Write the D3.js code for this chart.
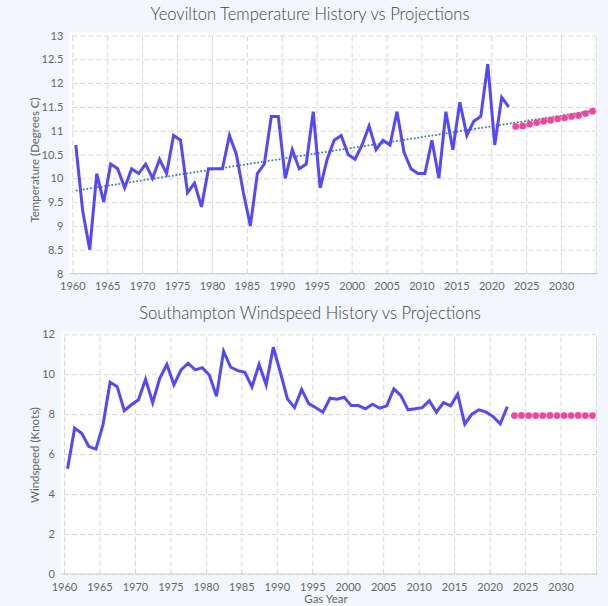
<!DOCTYPE html>
<html>
<head>
<meta charset="utf-8">
<script src="https://cdn.jsdelivr.net/npm/d3@7"></script>
<style>
  body { margin: 0; background: #f3f6fd; }
  svg { display: block; font-family: Lato, "Noto Sans", sans-serif; }
</style>
</head>
<body>
<svg id="chart" width="608" height="606"></svg>
<script>
// gas years of the history series
var historyYears = [
  1960, 1961, 1962, 1963, 1964, 1965, 1966, 1967, 1968, 1969,
  1970, 1971, 1972, 1973, 1974, 1975, 1976, 1977, 1978, 1979,
  1980, 1981, 1982, 1983, 1984, 1985, 1986, 1987, 1988, 1989,
  1990, 1991, 1992, 1993, 1994, 1995, 1996, 1997, 1998, 1999,
  2000, 2001, 2002, 2003, 2004, 2005, 2006, 2007, 2008, 2009,
  2010, 2011, 2012, 2013, 2014, 2015, 2016, 2017, 2018, 2019,
  2020, 2021, 2022
];
var projectionYears = [2023, 2024, 2025, 2026, 2027, 2028, 2029, 2030, 2031, 2032, 2033, 2034];

// Yeovilton temperature (degrees C)
var tempHistory = [
  10.7, 9.3, 8.5, 10.1, 9.5, 10.3, 10.2, 9.8, 10.2, 10.1,
  10.3, 10.0, 10.4, 10.1, 10.9, 10.8, 9.7, 9.9, 9.4, 10.2,
  10.2, 10.2, 10.9, 10.5, 9.7, 9.0, 10.1, 10.3, 11.3, 11.3,
  10.0, 10.6, 10.2, 10.3, 11.4, 9.8, 10.4, 10.8, 10.9, 10.5,
  10.4, 10.7, 11.1, 10.6, 10.8, 10.7, 11.4, 10.55, 10.2, 10.1,
  10.1, 10.8, 10.0, 11.4, 10.6, 11.6, 10.9, 11.2, 11.3, 12.4,
  10.7, 11.7, 11.5
];
var tempProjection = [11.09, 11.10, 11.14, 11.17, 11.20, 11.22, 11.25, 11.27, 11.30, 11.32, 11.36, 11.41];
var trendYears = [1960, 2034];
var tempTrend = [9.74, 11.42];

// Southampton windspeed (knots)
var windHistory = [
  5.27, 7.3, 7.05, 6.38, 6.25, 7.47, 9.6, 9.38, 8.18, 8.47,
  8.72, 9.75, 8.58, 9.8, 10.5, 9.47, 10.22, 10.55, 10.22, 10.33,
  9.95, 8.9, 11.15, 10.35, 10.18, 10.1, 9.37, 10.5, 9.47, 11.35,
  10.1, 8.77, 8.33, 9.24, 8.53, 8.32, 8.1, 8.8, 8.75, 8.85,
  8.43, 8.43, 8.27, 8.5, 8.3, 8.42, 9.27, 8.93, 8.22, 8.27,
  8.33, 8.68, 8.1, 8.58, 8.42, 9.0, 7.5, 8.0, 8.22, 8.1,
  7.88, 7.52, 8.38
];
var windProjection = [7.93, 7.94, 7.93, 7.93, 7.93, 7.94, 7.93, 7.93, 7.93, 7.94, 7.93, 7.93];

var xTicks = [1960, 1965, 1970, 1975, 1980, 1985, 1990, 1995, 2000, 2005, 2010, 2015, 2020, 2025, 2030, 2035];
var xTickLabels = ["1960", "1965", "1970", "1975", "1980", "1985", "1990", "1995", "2000", "2005", "2010", "2015", "2020", "2025", "2030", ""];
var tempTicks = [8, 8.5, 9, 9.5, 10, 10.5, 11, 11.5, 12, 12.5, 13];
var windTicks = [0, 2, 4, 6, 8, 10, 12];

var svg = d3.select("#chart");

var lineColor = "#5548f8";
var dotColor = "#f0479e";
var trendColor = "#3f7f9f";
var gridColor = "#d6d6d6";
var textColor = "#666";

function drawPanel(p) {
  var x = d3.scaleLinear().domain([1960, 2035]).range([p.left, p.right]);
  var y = d3.scaleLinear().domain(p.yDomain).range([p.bottom, p.top]);

  // white plot card
  svg.append("rect")
    .attr("x", p.left - 3)
    .attr("y", p.top - 3)
    .attr("width", p.right - p.left + 5)
    .attr("height", p.bottom - p.top + 3)
    .attr("fill", "#fff");

  // horizontal grid
  var yAxis = svg.append("g")
    .attr("transform", `translate(${p.left},0)`)
    .call(d3.axisLeft(y).tickValues(p.yTicks).tickSize(-(p.right - p.left)).tickPadding(9)
      .tickFormat(d3.format("")));
  yAxis.select(".domain").remove();
  yAxis.selectAll(".tick line")
    .attr("stroke", gridColor)
    .attr("stroke-dasharray", "5,3");
  yAxis.selectAll(".tick text")
    .attr("fill", textColor)
    .attr("font-size", 11)
    .attr("font-family", "Lato, 'Noto Sans', sans-serif");

  // vertical grid + year labels
  var xAxis = svg.append("g")
    .attr("transform", `translate(0,${p.bottom})`)
    .call(d3.axisBottom(x).tickValues(xTicks).tickSize(-(p.bottom - p.top)).tickPadding(9)
      .tickFormat(function(d, i) { return xTickLabels[i]; }));
  xAxis.select(".domain").remove();
  xAxis.selectAll(".tick line")
    .attr("stroke", gridColor)
    .attr("stroke-dasharray", "5,3");
  xAxis.selectAll(".tick text")
    .attr("fill", textColor)
    .attr("font-size", 11)
    .attr("font-family", "Lato, 'Noto Sans', sans-serif");

  // baseline
  svg.append("line")
    .attr("x1", p.left - 3).attr("x2", p.right + 2)
    .attr("y1", p.bottom).attr("y2", p.bottom)
    .attr("stroke", "#cfcfcf")
    .attr("stroke-width", 1);

  // trend line (temperature only)
  if (p.trend) {
    svg.append("path")
      .datum(trendYears.map(function(yr, i) { return [yr, p.trend[i]]; }))
      .attr("fill", "none")
      .attr("stroke", trendColor)
      .attr("stroke-width", 1.8)
      .attr("stroke-dasharray", "1.8,1.8")
      .attr("d", d3.line().x(d => x(d[0] + 0.5)).y(d => y(d[1])));
  }

  // history line
  svg.append("path")
    .datum(historyYears.map(function(yr, i) { return [yr, p.history[i]]; }))
    .attr("fill", "none")
    .attr("stroke", lineColor)
    .attr("stroke-width", 3)
    .attr("stroke-linejoin", "miter")
    .attr("d", d3.line().x(d => x(d[0] + 0.5)).y(d => y(d[1])));

  // projection dots
  svg.append("g").selectAll("circle")
    .data(projectionYears.map(function(yr, i) { return [yr, p.projection[i]]; }))
    .enter()
    .append("circle")
    .attr("cx", d => x(d[0] + 0.5))
    .attr("cy", d => y(d[1]))
    .attr("r", 3.4)
    .attr("fill", dotColor);

  // chart title
  svg.append("text")
    .attr("x", p.titleX)
    .attr("y", p.titleY)
    .attr("text-anchor", "middle")
    .attr("fill", "#444")
    .attr("font-size", 16.6)
    .attr("font-weight", 300)
    .text(p.title);

  // y axis title
  svg.append("text")
    .attr("transform", `translate(${p.yTitleX},${p.yTitleY}) rotate(-90)`)
    .attr("text-anchor", "middle")
    .attr("fill", textColor)
    .attr("font-size", 11.5)
    .text(p.yTitle);
}

drawPanel({
  left: 72.3, right: 596, top: 35.5, bottom: 273.5,
  yDomain: [8, 13], yTicks: tempTicks,
  history: tempHistory, projection: tempProjection, trend: tempTrend,
  title: "Yeovilton Temperature History vs Projections", titleX: 310, titleY: 19.5,
  yTitle: "Temperature (Degrees C)", yTitleX: 39, yTitleY: 160
});

drawPanel({
  left: 64, right: 596, top: 334.3, bottom: 574,
  yDomain: [0, 12], yTicks: windTicks,
  history: windHistory, projection: windProjection,
  title: "Southampton Windspeed History vs Projections", titleX: 310, titleY: 319,
  yTitle: "Windspeed (Knots)", yTitleX: 39, yTitleY: 455
});

// shared x axis title
svg.append("text")
  .attr("x", 326)
  .attr("y", 603)
  .attr("text-anchor", "middle")
  .attr("fill", textColor)
  .attr("font-size", 11.5)
  .text("Gas Year");
</script>
</body>
</html>
